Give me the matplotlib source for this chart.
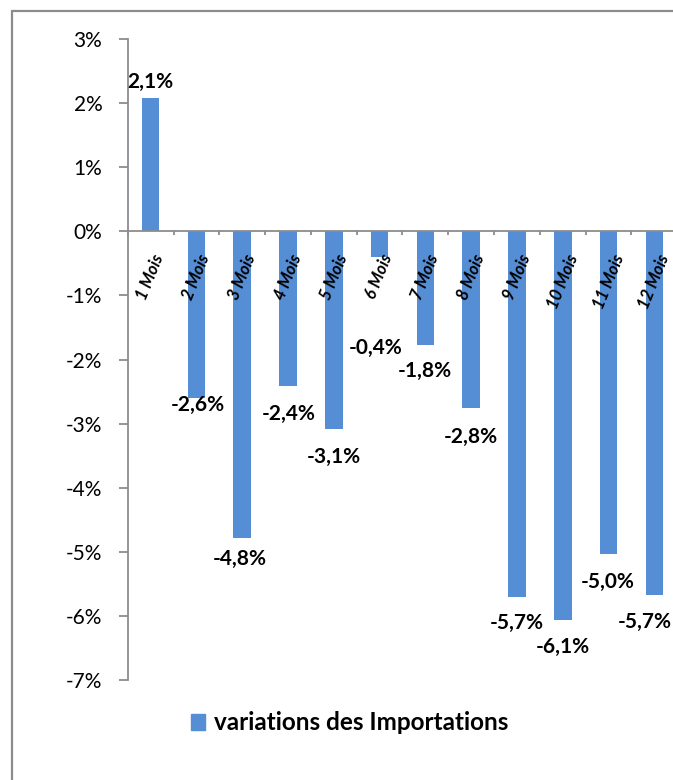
import matplotlib
matplotlib.use('Agg')
import matplotlib.pyplot as plt
from matplotlib.patches import Rectangle, Patch
from matplotlib.ticker import FixedLocator, FuncFormatter

plt.rcParams['font.family'] = ['Lato', 'DejaVu Sans']

# values (percent)
categories = ['1 Mois', '2 Mois', '3 Mois', '4 Mois', '5 Mois', '6 Mois',
              '7 Mois', '8 Mois', '9 Mois', '10 Mois', '11 Mois', '12 Mois']
variations = [2.08, -2.60, -4.79, -2.41, -3.09, -0.40,
              -1.78, -2.76, -5.70, -6.06, -5.03, -5.68]
y_ticks = [3, 2, 1, 0, -1, -2, -3, -4, -5, -6, -7]
series_name = 'variations des Importations'

BLUE = '#558ED5'
GRAY = '#8C8C8C'
PX = 72 / 100  # pixels -> points at dpi 100

# label nudges in pixels (Excel moved a few of them by hand)
label_dy = [16, -7, -21, -28, -28, -91, -26, -29, -26, -27, -28, -27]
label_dx = [0, 1, -2, 1, 0, -4, -1, 0, 0, 0, -1, -10]

fig = plt.figure(figsize=(6.73, 7.80), dpi=100)
ax = fig.add_axes([127.7 / 673, 1 - 680 / 780, 549.6 / 673, 641 / 780])
ax.set_axisbelow(False)

x = list(range(len(categories)))
ax.bar(x, variations, width=0.385, color=BLUE, zorder=2)

ax.set_xlim(-0.5, len(categories) - 0.5)
ax.set_ylim(-7, 3)

# spines: only the left axis and the zero line
for side in ['top', 'right']:
    ax.spines[side].set_visible(False)
ax.spines['left'].set_color(GRAY)
ax.spines['left'].set_linewidth(1.3)
ax.spines['bottom'].set_position(('data', 0))
ax.spines['bottom'].set_color(GRAY)
ax.spines['bottom'].set_linewidth(1.3)

ax.yaxis.set_major_locator(FixedLocator(y_ticks))
ax.yaxis.set_major_formatter(FuncFormatter(lambda v, p: f'{int(round(v))}%'))
ax.tick_params(axis='y', direction='out', length=8.7 * PX, width=1.3, color=GRAY,
               pad=12, labelsize=15)

# category boundaries carry the tick marks, centres carry the labels
ax.xaxis.set_major_locator(FixedLocator([i - 0.5 for i in range(len(categories) + 1)]))
ax.xaxis.set_minor_locator(FixedLocator(x))
ax.tick_params(axis='x', which='major', direction='out', length=4 * PX, width=1.3,
               color=GRAY, labelbottom=False)
ax.tick_params(axis='x', which='minor', length=0, pad=15)
ax.set_xticks(x, minor=True)
ax.set_xticklabels(categories, minor=True, rotation=68, ha='center',
                   fontsize=12, fontweight='bold', fontstyle='italic')

for i, v in enumerate(variations):
    txt = f'{v:.1f}%'.replace('.', ',')
    ax.annotate(txt, xy=(i, v), xytext=(label_dx[i] * PX, label_dy[i] * PX),
                textcoords='offset points', ha='center', va='center',
                fontsize=15, fontweight='bold', annotation_clip=False)

# outer chart frame (right and bottom edges are cut off in the original)
fig.add_artist(Rectangle((12 / 673, -0.1), 1.0, 1 - 11 / 780 + 0.1,
                         transform=fig.transFigure, fill=False,
                         edgecolor=GRAY, linewidth=1.6))

fig.legend(handles=[Patch(color=BLUE)], labels=[series_name], loc='center',
           bbox_to_anchor=(0.519, 1 - 723 / 780), frameon=False,
           prop={'size': 17.5, 'weight': 'bold'}, handlelength=0.6,
           handleheight=0.6, handletextpad=0.35)

fig.savefig('out.png', dpi=100)
